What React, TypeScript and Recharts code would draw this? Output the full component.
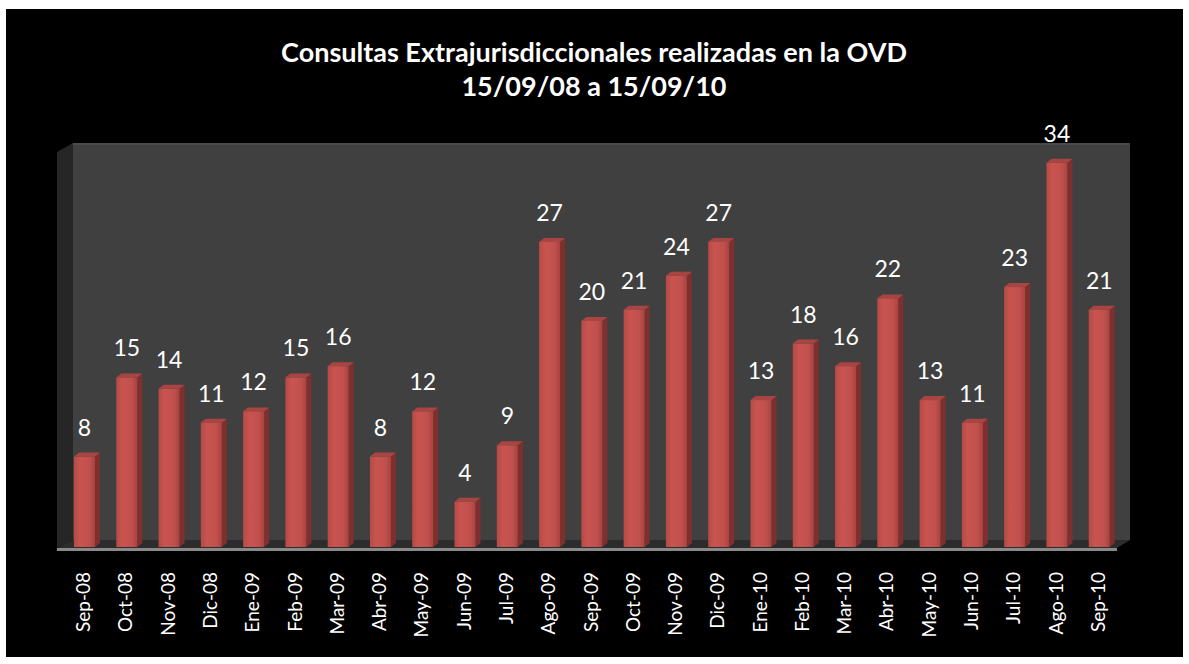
import { BarChart, Bar, XAxis, YAxis, LabelList } from "recharts";

const months = [
  "Sep-08", "Oct-08", "Nov-08", "Dic-08", "Ene-09", "Feb-09", "Mar-09", "Abr-09", "May-09",
  "Jun-09", "Jul-09", "Ago-09", "Sep-09", "Oct-09", "Nov-09", "Dic-09", "Ene-10", "Feb-10",
  "Mar-10", "Abr-10", "May-10", "Jun-10", "Jul-10", "Ago-10", "Sep-10",
];
const consultas = [8, 15, 14, 11, 12, 15, 16, 8, 12, 4, 9, 27, 20, 21, 24, 27, 13, 18, 16, 22, 13, 11, 23, 34, 21];

const titleLines = ["Consultas Extrajurisdiccionales realizadas en la OVD", "15/09/08 a 15/09/10"];

const data = months.map((m, i) => ({ month: m, value: consultas[i] }));

const W = 1189;
const H = 664;
const FONT = "Lato, 'Open Sans', sans-serif";

// plot box (front plane) and the 3D back wall offset
const PLOT = { left: 63, right: 1120, top: 143, bottom: 547 };
const DEPTH_X = 13;
const DEPTH_Y = 8;

function Bar3D(props: any) {
  const { x, y, width, height } = props;
  if (height <= 0) return null;
  const d = 5;
  const u = 4;
  return (
    <g>
      <polygon
        points={`${x + width},${y} ${x + width + d},${y - u} ${x + width + d},${y + height - u} ${x + width},${y + height}`}
        fill="#7f302e"
      />
      <polygon
        points={`${x},${y} ${x + d},${y - u} ${x + width + d},${y - u} ${x + width},${y}`}
        fill="#a84542"
      />
      <rect x={x} y={y} width={width} height={height} fill="url(#barFront)" />
    </g>
  );
}

function MonthTick(props: any) {
  const { x, y, payload } = props;
  return (
    <text
      x={0}
      y={0}
      transform={`translate(${x + 6},${y + 17}) rotate(-90)`}
      textAnchor="end"
      fill="#ffffff"
      fontSize={19}
      fontFamily={FONT}
    >
      {payload.value}
    </text>
  );
}

function Backdrop() {
  const wl = PLOT.left - 6;
  const wr = PLOT.right + DEPTH_X - 3;
  const backL = wl + 16;
  const backTop = PLOT.top;
  const backBottom = PLOT.bottom - DEPTH_Y + 1;
  return (
    <svg width={W} height={H} style={{ position: "absolute", left: 0, top: 0 }}>
      <rect x={0} y={0} width={W} height={H} fill="#ffffff" />
      <rect x={6} y={9} width={1177} height={648} fill="#000000" />
      <text x={594} y={62} textAnchor="middle" fill="#ffffff" fontSize={27} fontWeight="bold" fontFamily={FONT}>
        {titleLines[0]}
      </text>
      <text x={594} y={96} textAnchor="middle" fill="#ffffff" fontSize={27} fontWeight="bold" fontFamily={FONT}>
        {titleLines[1]}
      </text>
      {/* back wall */}
      <rect x={backL} y={backTop} width={wr - backL} height={backBottom - backTop} fill="#404040" />
      <rect x={backL} y={backTop} width={wr - backL} height={2} fill="#4a4a4a" />
      {/* side wall */}
      <polygon
        points={`${wl},${backTop + 9} ${backL},${backTop} ${backL},${backBottom} ${wl},${PLOT.bottom + 1}`}
        fill="#262626"
      />
      {/* floor */}
      <polygon
        points={`${wl},${PLOT.bottom + 1} ${backL},${backBottom} ${wr},${backBottom} ${wr - 13},${PLOT.bottom + 1}`}
        fill="#2c2c2c"
      />
      <rect x={wl} y={PLOT.bottom + 1} width={wr - 13 - wl} height={3} fill="#8a8a8a" />
    </svg>
  );
}

export default function App() {
  return (
    <div style={{ position: "fixed", left: 0, top: 0, width: W, height: H, background: "#fff" }}>
      <Backdrop />
      <div style={{ position: "absolute", left: 0, top: 0 }}>
        <BarChart
          width={W}
          height={H}
          data={data}
          margin={{ top: PLOT.top, right: W - PLOT.right, bottom: 7, left: PLOT.left }}
        >
          <defs>
            <linearGradient id="barFront" x1="0" y1="0" x2="1" y2="0">
              <stop offset="0%" stopColor="#b54a47" />
              <stop offset="30%" stopColor="#c9544f" />
              <stop offset="75%" stopColor="#c0504d" />
              <stop offset="100%" stopColor="#a8423f" />
            </linearGradient>
          </defs>
          <XAxis
            dataKey="month"
            height={H - 7 - PLOT.bottom}
            axisLine={false}
            tickLine={false}
            interval={0}
            tick={<MonthTick />}
          />
          <YAxis hide domain={[0, 35.75]} />
          <Bar dataKey="value" barSize={21} shape={<Bar3D />} isAnimationActive={false}>
            <LabelList
              dataKey="value"
              position="top"
              offset={21}
              fill="#ffffff"
              fontSize={23}
              fontFamily={FONT}
            />
          </Bar>
        </BarChart>
      </div>
    </div>
  );
}
